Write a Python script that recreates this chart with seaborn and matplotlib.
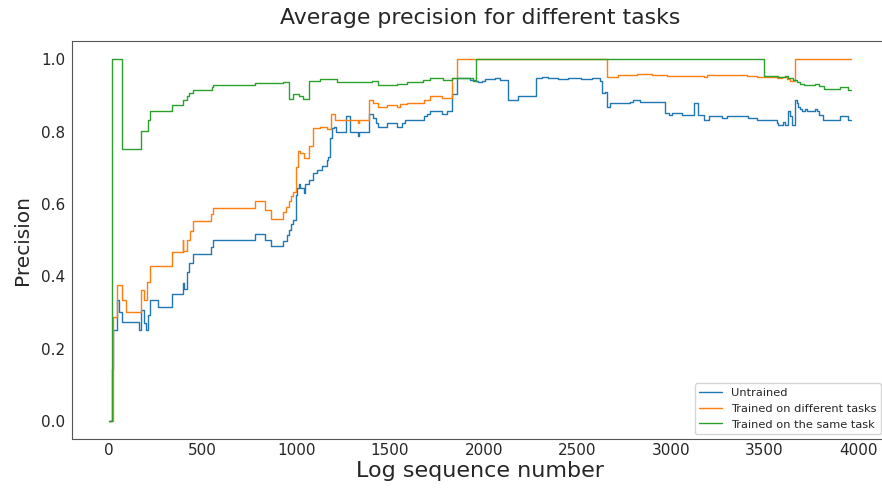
import matplotlib
matplotlib.use("Agg")
import matplotlib.pyplot as plt
import seaborn as sns
import pandas as pd

# ---- data (step breakpoints) ----
untrained_x = [0, 15, 23, 26, 44, 52, 68, 162, 171, 184, 196, 208, 219, 263, 335, 393, 400, 418, 429, 447,
               545, 557, 780, 835, 863, 931, 949, 963, 974, 984, 997, 1006, 1016, 1022, 1043, 1048, 1066,
               1091, 1109, 1136, 1162, 1171, 1180, 1189, 1201, 1212, 1264, 1287, 1331, 1337, 1390, 1408,
               1426, 1438, 1483, 1536, 1563, 1581, 1593, 1679, 1697, 1714, 1777, 1807, 1830, 1860, 1928,
               1954, 1972, 1990, 2008, 2061, 2088, 2129, 2186, 2280, 2311, 2346, 2399, 2450, 2520, 2580,
               2622, 2631, 2648, 2657, 2675, 2782, 2800, 2836, 2969, 2987, 3005, 3058, 3124, 3147, 3174,
               3183, 3201, 3272, 3300, 3414, 3459, 3566, 3574, 3598, 3610, 3627, 3637, 3645, 3663, 3672,
               3681, 3690, 3699, 3717, 3725, 3770, 3779, 3793, 3811, 3904, 3948, 3962]
untrained_y = [0.0, 0.144, 0.25, 0.25, 0.333, 0.30, 0.273, 0.25, 0.307, 0.27, 0.25, 0.293, 0.333, 0.316, 0.35,
               0.38, 0.364, 0.412, 0.437, 0.46, 0.48, 0.50, 0.517, 0.50, 0.483, 0.498, 0.514, 0.528, 0.543,
               0.555, 0.624, 0.643, 0.655, 0.643, 0.631, 0.655, 0.666, 0.684, 0.693, 0.703, 0.721, 0.73,
               0.781, 0.808, 0.813, 0.799, 0.841, 0.799, 0.788, 0.799, 0.847, 0.836, 0.824, 0.811, 0.824,
               0.813, 0.824, 0.831, 0.831, 0.841, 0.848, 0.855, 0.848, 0.855, 0.902, 0.946, 0.943, 0.94,
               0.936, 0.94, 0.944, 0.946, 0.942, 0.887, 0.898, 0.946, 0.951, 0.946, 0.945, 0.948, 0.945,
               0.947, 0.94, 0.905, 0.91, 0.868, 0.877, 0.882, 0.887, 0.882, 0.85, 0.846, 0.85, 0.845, 0.879,
               0.845, 0.831, 0.831, 0.843, 0.838, 0.843, 0.838, 0.831, 0.824, 0.818, 0.825, 0.818, 0.855,
               0.841, 0.818, 0.887, 0.877, 0.866, 0.861, 0.856, 0.862, 0.856, 0.862, 0.856, 0.845, 0.831,
               0.843, 0.831, 0.831]

different_x = [0, 20, 44, 68, 91, 173, 187, 205, 219, 335, 393, 397, 418, 433, 447, 545, 557, 780, 835, 863,
               931, 945, 963, 974, 984, 997, 1008, 1020, 1041, 1066, 1088, 1127, 1166, 1184, 1207, 1331, 1337,
               1390, 1408, 1438, 1483, 1536, 1554, 1593, 1679, 1714, 1777, 1830, 1860, 2661, 2720, 2818, 2900,
               2978, 3100, 3174, 3192, 3215, 3405, 3459, 3566, 3592, 3619, 3637, 3660, 3962]
different_y = [0.0, 0.286, 0.375, 0.333, 0.30, 0.362, 0.333, 0.383, 0.428, 0.466, 0.50, 0.47, 0.50, 0.525, 0.551,
               0.571, 0.589, 0.607, 0.582, 0.559, 0.576, 0.59, 0.607, 0.622, 0.632, 0.702, 0.747, 0.739, 0.726,
               0.76, 0.808, 0.813, 0.806, 0.848, 0.831, 0.824, 0.831, 0.887, 0.877, 0.866, 0.873, 0.866, 0.875,
               0.879, 0.887, 0.899, 0.893, 0.946, 1.0, 0.949, 0.955, 0.958, 0.955, 0.953, 0.954, 0.95, 0.957,
               0.955, 0.953, 0.951, 0.946, 0.949, 0.945, 0.94, 1.0, 1.0]

same_x = [0, 16, 68, 171, 208, 219, 335, 393, 418, 428, 450, 548, 557, 780, 931, 961, 984, 1015, 1036, 1066,
          1127, 1216, 1403, 1437, 1536, 1590, 1678, 1714, 1785, 1830, 1945, 1960, 3499, 3574, 3610, 3626,
          3653, 3672, 3690, 3712, 3770, 3788, 3815, 3904, 3948, 3962]
same_y = [0.0, 1.0, 0.75, 0.80, 0.83, 0.855, 0.873, 0.887, 0.897, 0.905, 0.914, 0.923, 0.928, 0.933, 0.935,
          0.889, 0.903, 0.898, 0.889, 0.939, 0.945, 0.936, 0.94, 0.928, 0.931, 0.936, 0.942, 0.946, 0.943,
          0.946, 0.94, 1.0, 0.953, 0.949, 0.953, 0.947, 0.942, 0.936, 0.93, 0.928, 0.932, 0.926, 0.916,
          0.922, 0.915, 0.915]

series_names = ["Untrained", "Trained on different tasks", "Trained on the same task"]
title_text = "Average precision for different tasks"
x_label = "Log sequence number"
y_label = "Precision"
x_ticks = [0, 500, 1000, 1500, 2000, 2500, 3000, 3500, 4000]
y_ticks = [0.0, 0.2, 0.4, 0.6, 0.8, 1.0]

df = pd.concat([
    pd.DataFrame({"x": untrained_x, "y": untrained_y, "series": series_names[0]}),
    pd.DataFrame({"x": different_x, "y": different_y, "series": series_names[1]}),
    pd.DataFrame({"x": same_x, "y": same_y, "series": series_names[2]}),
], ignore_index=True)

sns.set_style("white")
plt.rcParams["font.family"] = ["DejaVu Sans"]

fig = plt.figure(figsize=(8.82, 4.892), dpi=100)
ax = fig.add_axes([0.0816, 0.1022, 0.925, 0.8139])

palette = ["#1f77b4", "#ff7f0e", "#2ca02c"]
sns.lineplot(data=df, x="x", y="y", hue="series", hue_order=series_names, palette=palette,
             drawstyle="steps-post", linewidth=1.0, ax=ax, estimator=None, sort=False)

ax.set_xlim(-198, 4158)
ax.set_ylim(-0.05, 1.05)
ax.set_xticks(x_ticks)
ax.set_yticks(y_ticks)
ax.set_xticklabels([str(t) for t in x_ticks], fontsize=11)
ax.set_yticklabels([f"{t:.1f}" for t in y_ticks], fontsize=11)
ax.tick_params(axis="both", length=0)
ax.tick_params(axis="x", pad=3)
ax.tick_params(axis="y", pad=5)
ax.set_xlabel(x_label, fontsize=16, labelpad=2)
ax.set_ylabel(y_label, fontsize=14.5, labelpad=6)
ax.set_title(title_text, fontsize=15.8, pad=12)
for s in ax.spines.values():
    s.set_color("#555555")
ax.spines["right"].set_visible(False)

leg = ax.legend(loc="lower right", fontsize=8.2, bbox_to_anchor=(881 / 882, (489 - 434) / 489),
                bbox_transform=fig.transFigure, borderaxespad=0)

fig.savefig("out.png", dpi=100)
